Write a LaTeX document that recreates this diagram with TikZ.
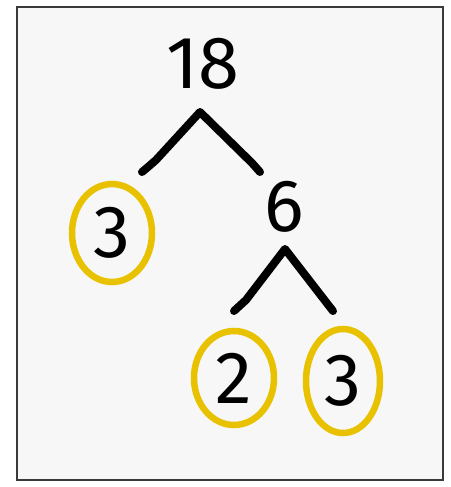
\documentclass[tikz,border=0pt]{standalone}
\usepackage{fontspec}
\setmainfont{Fira Sans}
\usetikzlibrary{shapes.geometric}

\definecolor{paper}{HTML}{F7F7F7}
\definecolor{framegray}{HTML}{3A3A3A}
\definecolor{markyellow}{HTML}{E8C100}

\tikzset{
	num/.style={font=\fontsize{74}{74}\selectfont, inner sep=0pt},
	circled/.style={num, ellipse, draw=markyellow, line width=6.5pt},
	branch/.style={line width=8pt, line cap=round, line join=round}
}

\begin{document}
\begin{tikzpicture}[x=1pt,y=-1pt]
	\useasboundingbox (0,0) rectangle (450,487);
	\draw[framegray, fill=paper, line width=1.2pt] (17,7) rectangle (443,480);

	\node[num] (n18) at (203,64) {18};
	\node[num] (n6) at (284,207) {6};
	\node[circled, minimum width=80pt, minimum height=98pt] (n3l) at (112,233) {3};
	\node[circled, minimum width=80pt, minimum height=94pt] (n2) at (234,378) {2};
	\node[circled, minimum width=74pt, minimum height=104pt] (n3r) at (343,381) {3};

	\coordinate (top18) at (200,112);
	\coordinate (left18) at (142,172);
	\coordinate (right18) at (260,172);
	\coordinate (top6) at (285,249);
	\coordinate (left6) at (234,311);
	\coordinate (right6) at (333,311);

	\draw[branch] (left18) .. controls (148,167) .. (156,160) -- (top18) -- (252,163) .. controls (256,167) .. (right18);
	\draw[branch] (left6) .. controls (240,306) .. (246,300) -- (top6) -- (326,302) .. controls (330,306) .. (right6);

\end{tikzpicture}
\end{document}
